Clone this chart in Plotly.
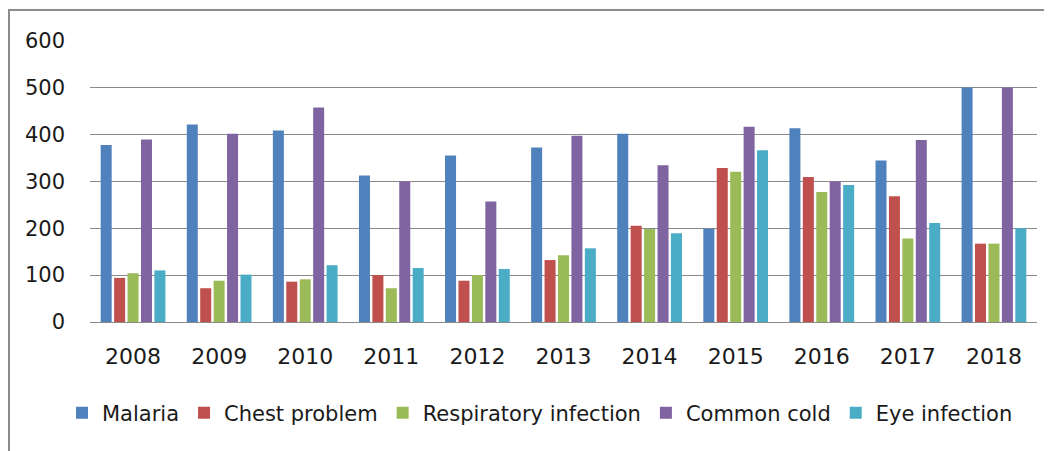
import plotly.graph_objects as go

years = ["2008", "2009", "2010", "2011", "2012", "2013", "2014", "2015", "2016", "2017", "2018"]
malaria = [377, 421, 408, 312, 355, 372, 401, 199, 413, 344, 500]
chest_problem = [94, 72, 86, 100, 88, 132, 205, 328, 309, 268, 167]
respiratory_infection = [104, 88, 91, 72, 100, 142, 198, 320, 277, 178, 167]
common_cold = [389, 401, 457, 300, 257, 397, 334, 416, 300, 388, 500]
eye_infection = [110, 101, 121, 115, 113, 157, 189, 366, 292, 211, 200]

series = [
    ("Malaria", malaria, "#4F81BD"),
    ("Chest problem", chest_problem, "#C0504D"),
    ("Respiratory infection", respiratory_infection, "#9BBB59"),
    ("Common cold", common_cold, "#8064A2"),
    ("Eye infection", eye_infection, "#4BACC6"),
]

fig = go.Figure()
for name, vals, color in series:
    fig.add_trace(go.Bar(x=years, y=vals, name=name, marker=dict(color=color, line=dict(width=0))))

# page body margin offset (window px -> figure px)
OFF = 8
W, H = 1052, 451
# desired plot area in window pixels
PX0, PX1, PY0, PY1 = 90, 1037, 40, 322
L = PX0 - OFF
R = W - (PX1 - OFF)
T = PY0 - OFF
B = H - (PY1 - OFF)
pw = PX1 - PX0
ph = PY1 - PY0


def px_to_paper_x(x):
    return (x - PX0) / pw


def px_to_paper_y(y):
    return (PY1 - y) / ph


fig.update_layout(
    width=W, height=H,
    margin=dict(l=L, r=R, t=T, b=B),
    paper_bgcolor="white", plot_bgcolor="white",
    barmode="group", bargap=0.22, bargroupgap=0.18,
    font=dict(family="DejaVu Sans", size=21, color="#1a1a1a"),
    legend=dict(orientation="h", x=px_to_paper_x(62), xanchor="left",
                y=px_to_paper_y(413), yanchor="middle",
                font=dict(size=21), traceorder="normal"),
    xaxis=dict(showgrid=False, showline=True, linecolor="#8a8a8a", linewidth=1,
               ticks="", ticklabelstandoff=15, tickfont=dict(size=22)),
    yaxis=dict(range=[0, 601], tickvals=[0, 100, 200, 300, 400, 500, 600],
               showgrid=True, gridcolor="#8a8a8a", gridwidth=1,
               zeroline=False, showline=False, ticks="", ticklabelstandoff=24,
               tickfont=dict(size=21)),
    shapes=[dict(type="rect", xref="paper", yref="paper",
                 x0=px_to_paper_x(9), x1=px_to_paper_x(W + 20),
                 y0=px_to_paper_y(H + 20), y1=px_to_paper_y(10),
                 line=dict(color="#8c8c8c", width=2), fillcolor="rgba(0,0,0,0)", layer="below")],
)

fig.write_html("out.html")
